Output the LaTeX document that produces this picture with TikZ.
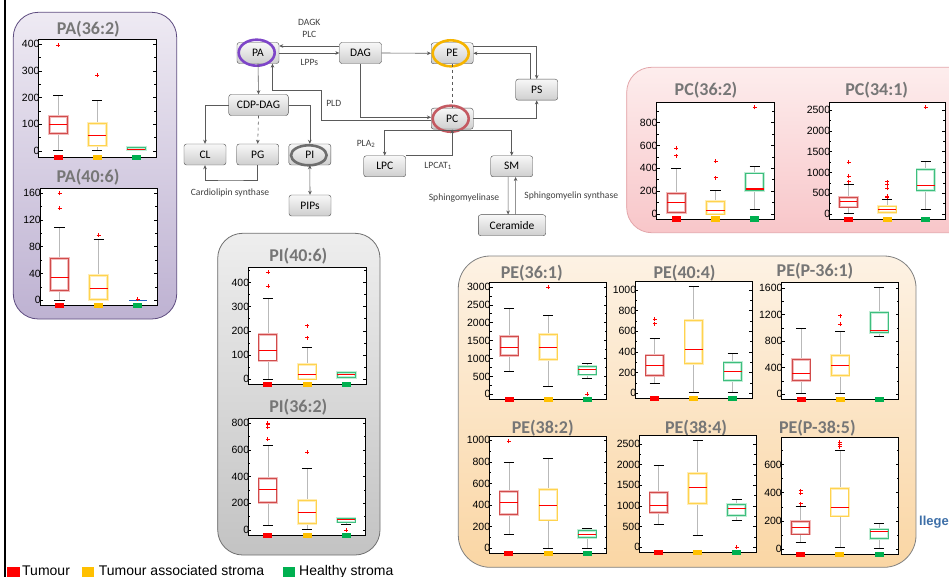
\documentclass[tikz,border=0pt]{standalone}
\usepackage{fontspec}
\setmainfont{Liberation Sans}
\newfontfamily\calfont{Carlito}
\usetikzlibrary{arrows.meta,calc}
\definecolor{sqR}{HTML}{FF0000}
\definecolor{sqY}{HTML}{FFC000}
\definecolor{sqG}{HTML}{00B050}
\definecolor{boxR}{HTML}{D14B4B}
\definecolor{boxRh}{HTML}{F2BCBC}
\definecolor{boxY}{HTML}{FFD34E}
\definecolor{boxYh}{HTML}{FFEDB8}
\definecolor{boxG}{HTML}{3DBE7E}
\definecolor{boxGh}{HTML}{C2EDD6}
\definecolor{ttl}{HTML}{767676}
\definecolor{lnk}{HTML}{5A5A5A}
\definecolor{collc}{HTML}{3D6FA8}
\definecolor{puT}{HTML}{EEEAF3}\definecolor{puB}{HTML}{BEB2D2}\definecolor{puD}{HTML}{5E4C80}
\definecolor{piT}{HTML}{FDEDED}\definecolor{piB}{HTML}{F8C6C9}\definecolor{piD}{HTML}{E3A6AA}
\definecolor{grT}{HTML}{EEEEEE}\definecolor{grB}{HTML}{C3C3C3}\definecolor{grD}{HTML}{707070}
\definecolor{peT}{HTML}{FDF2E4}\definecolor{peB}{HTML}{FAD6A4}\definecolor{peD}{HTML}{808080}
\definecolor{blueL}{HTML}{2060C0}
\definecolor{ringPA}{HTML}{7E45C8}
\definecolor{ringPE}{HTML}{F6B400}
\definecolor{ringPC}{HTML}{C45A62}
\definecolor{ringPI}{HTML}{6E6E6E}
\tikzset{
  pframe/.style={draw=black,fill=white,line width=0.9pt},
  tick/.style={line width=0.6pt},
  ticklab/.style={anchor=east,inner sep=0pt,xshift=1pt,font=\fontsize{10.5}{12}\selectfont},
  whisk/.style={draw=gray!55,line width=0.7pt},
  capb/.style={draw=black,line width=1pt},
  rb/.style={draw=boxR,line width=0.9pt}, rbh/.style={draw=boxRh,line width=2.6pt},
  yb/.style={draw=boxY,line width=0.9pt}, ybh/.style={draw=boxYh,line width=2.6pt},
  gb/.style={draw=boxG,line width=0.9pt}, gbh/.style={draw=boxGh,line width=2.6pt},
  medl/.style={draw=red,line width=1.1pt},
  outs/.style={draw=red,line width=0.8pt},
  ptitle/.style={font=\calfont\bfseries\fontsize{18}{20}\selectfont,text=ttl,inner sep=0pt},
  pbox/.style={draw=gray!60!black,rounded corners=2.5pt,top color=gray!6,bottom color=gray!38,
    minimum width=42pt,minimum height=21pt,inner sep=1pt,font=\calfont\fontsize{11.5}{13}\selectfont},
  plab/.style={font=\calfont\fontsize{9.6}{11}\selectfont,text=black!75,inner sep=0pt},
  arr/.style={draw=lnk,line width=0.6pt,-{Stealth[length=4pt,width=3.6pt]}},
  arrb/.style={draw=lnk,line width=0.6pt,{Stealth[length=4pt,width=3.6pt]}-{Stealth[length=4pt,width=3.6pt]}},
  legt/.style={font=\fontsize{14}{16}\selectfont,anchor=base west,inner sep=0pt},
  ring/.style={line width=2.6pt},
}
\newcommand\plotbegin[9]{%
  \draw[pframe] (#1,#3) rectangle (#2,#4);
  \pgfmathsetmacro\pu{(#2-#1)/3}%
  \pgfmathsetmacro\pxo{#1-(#2-#1)/6}%
  \pgfmathsetmacro\ptop{(#5-#3)/#6}%
  \pgfmathsetmacro\pmb{#9+#7}%
  \foreach \c [count=\i] in {sqR,sqY,sqG}
    \fill[\c] ({\pxo+\i*\pu-4.5},{#4-2.5}) rectangle ++(9,5.5);
  \begin{scope}[shift={(\pxo,#5)},x=\pu pt,y=#6pt]
  \foreach \v in {0,#7,...,#8}{
    \draw[tick] (0.5,\v) -- ++(3pt,0pt) (3.5,\v) -- ++(-3pt,0pt);
    \node[ticklab] at (0.5,\v) {\v};}
  \foreach \v in {#9,\pmb,...,\ptop}{
    \draw[tick] (0.5,\v) -- ++(2pt,0pt) (3.5,\v) -- ++(-2pt,0pt);}
}
\newcommand\plotend{\end{scope}}
\newcommand\bxp[7]{%
  \draw[whisk] (#1,#2) -- (#1,#3) (#1,#5) -- (#1,#6);
  \draw[capb] ({#1-0.13},#2) -- ({#1+0.13},#2) ({#1-0.13},#6) -- ({#1+0.13},#6);
  \draw[#7h] ({#1-0.23},#3) rectangle ({#1+0.23},#5);
  \draw[#7] ({#1-0.23},#3) rectangle ({#1+0.23},#5);
  \draw[medl] ({#1-0.23},#4) -- ({#1+0.23},#4);}
\newcommand\outl[2]{\draw[outs] (#1,#2) +(-2pt,0pt) -- +(2pt,0pt) +(0pt,-2pt) -- +(0pt,2pt);}
\begin{document}
\begin{tikzpicture}[x=1pt,y=-1pt]
\useasboundingbox (0,0) rectangle (949,577);
\clip (0,0) rectangle (949,577);
\fill[white] (0,0) rectangle (949,577);
% left rule
\draw[line width=2.5pt] (5,0) -- (5,577);
% panels
\shadedraw[top color=puT,bottom color=puB,draw=puD,line width=0.8pt,rounded corners=25pt] (13.3,12.3) rectangle (176.7,319);
\shadedraw[top color=piT,bottom color=piB,draw=piD,line width=0.8pt,rounded corners=25pt] (626.7,67.3) rectangle (975,232.7);
\shadedraw[top color=grT,bottom color=grB,draw=grD,line width=0.8pt,rounded corners=25pt] (217.7,233.3) rectangle (380,555);
\shadedraw[top color=peT,bottom color=peB,draw=peD,line width=0.8pt,rounded corners=32pt] (458.3,256) rectangle (916,567.3);
% company text
\node[anchor=west,inner sep=0pt,text=collc,font=\bfseries\fontsize{13}{15}\selectfont] (coll) at (919,522) {llege};
% titles
\node[ptitle] (tPA1) at (88.3,29) {PA(36:2)};
\node[ptitle] (tPA2) at (88,176.7) {PA(40:6)};
\node[ptitle] (tPC1) at (706,90) {PC(36:2)};
\node[ptitle] (tPC2) at (876.7,90) {PC(34:1)};
\node[ptitle] (tPI1) at (298.3,256) {PI(40:6)};
\node[ptitle] (tPI2) at (298.3,407.3) {PI(36:2)};
\node[ptitle] (tPE1) at (531.7,273.3) {PE(36:1)};
\node[ptitle] (tPE2) at (684.5,273) {PE(40:4)};
\node[ptitle] (tPE3) at (815,271) {PE(P-36:1)};
\node[ptitle] (tPE4) at (542.7,428.3) {PE(38:2)};
\node[ptitle] (tPE5) at (696,428) {PE(38:4)};
\node[ptitle] (tPE6) at (817.3,428.3) {PE(P-38:5)};
% PA(36:2)
\plotbegin{38.7}{156}{39.3}{157.3}{151}{0.267}{100}{400}{50}
 \bxp{1}{0}{66}{100}{129}{207}{rb} \outl{1}{397}
 \bxp{2}{0}{19}{59}{104}{190}{yb} \outl{2}{284}
 \bxp{3}{0}{4}{6}{12}{16}{gb}
\plotend
% PA(40:6)
\plotbegin{40}{157.3}{188.7}{305.3}{300.3}{0.669}{40}{160}{20}
 \bxp{1}{0}{15}{34.4}{62.8}{108.7}{rb} \outl{1}{160} \outl{1}{137.6}
 \bxp{2}{0}{1.5}{17}{37.4}{91}{yb} \outl{2}{97.7}
 \draw[draw=blueL,line width=1.1pt] ({3-0.23},0) -- ({3+0.23},0);
 \outl{3}{2}
\plotend
% PC(36:2)
\plotbegin{656.7}{774.3}{102.3}{219}{214}{0.1142}{200}{800}{100}
 \bxp{1}{0}{15}{102}{181}{400}{rb} \outl{1}{575} \outl{1}{511}
 \bxp{2}{0}{0}{32}{108}{204}{yb} \outl{2}{461} \outl{2}{318}
 \bxp{3}{41}{204}{219}{359}{420}{gb} \outl{3}{934}
\plotend
% PC(34:1)
\plotbegin{829.3}{945}{102.7}{219.3}{214}{0.0416}{500}{2500}{250}
 \bxp{1}{0}{168}{304}{393}{713}{rb} \outl{1}{1242} \outl{1}{905} \outl{1}{777}
 \bxp{2}{0}{32}{104}{192}{353}{yb} \outl{2}{777} \outl{2}{720} \outl{2}{617} \outl{2}{425} \outl{2}{400}
 \bxp{3}{112}{569}{689}{1066}{1274}{gb} \outl{3}{2564}
\plotend
% PI(40:6)
\plotbegin{248.3}{366}{267.7}{384.3}{379}{0.241}{100}{400}{50}
 \bxp{1}{0}{75}{119}{184}{335}{rb} \outl{1}{443} \outl{1}{384}
 \bxp{2}{0}{0}{19}{60}{131}{yb} \outl{2}{222} \outl{2}{171}
 \bxp{3}{3}{6}{19}{28}{32}{gb}
\plotend
% PI(36:2)
\plotbegin{248.3}{365.7}{418.7}{535.3}{530}{0.1333}{200}{800}{100}
 \bxp{1}{35}{205}{305}{385}{635}{rb} \outl{1}{800} \outl{1}{790} \outl{1}{770} \outl{1}{680}
 \bxp{2}{5}{50}{132}{222}{460}{yb} \outl{2}{585}
 \bxp{3}{40}{60}{80}{90}{95}{gb} \outl{3}{0}
\plotend
% PE(36:1)
\plotbegin{489.7}{606.7}{282.3}{399.3}{394.3}{0.0358}{500}{3000}{250}
 \bxp{1}{643}{1090}{1314}{1621}{2404}{rb}
 \bxp{2}{224}{979}{1314}{1677}{2199}{yb} \outl{2}{2992}
 \bxp{3}{447}{541}{699}{783}{867}{gb} \outl{3}{9}
\plotend
% PE(40:4)
\plotbegin{635.3}{752.3}{281.7}{398.3}{393.3}{0.1033}{200}{1000}{100}
 \bxp{1}{97}{174}{271}{371}{532}{rb} \outl{1}{716} \outl{1}{674}
 \bxp{2}{3}{290}{426}{706}{1032}{yb}
 \bxp{3}{3}{122}{213}{300}{383}{gb}
\plotend
% PE(P-36:1)
\plotbegin{781.7}{898.7}{282.3}{399}{394.3}{0.0663}{400}{1600}{200}
 \bxp{1}{5}{211}{307}{528}{996}{rb}
 \bxp{2}{5}{287}{438}{589}{951}{yb} \outl{2}{1187} \outl{2}{1060}
 \bxp{3}{875}{936}{961}{1238}{1615}{gb}
\plotend
% PE(38:2)
\plotbegin{489.3}{606.7}{436.3}{553.3}{548}{0.1077}{200}{1000}{100}
 \bxp{1}{127}{313}{424}{526}{796}{rb} \outl{1}{991}
 \bxp{2}{0}{260}{393}{545}{830}{yb}
 \bxp{3}{0}{99}{127}{164}{183}{gb}
\plotend
% PE(38:4)
\plotbegin{639.3}{756}{435.3}{552.3}{547.3}{0.0413}{500}{2500}{250}
 \bxp{1}{556}{839}{1016}{1323}{1984}{rb}
 \bxp{2}{290}{1065}{1452}{1790}{2589}{yb}
 \bxp{3}{661}{775}{944}{1041}{1162}{gb} \outl{3}{7}
\plotend
% PE(P-38:5)
\plotbegin{781}{898.7}{437.3}{554.3}{549}{0.1406}{200}{600}{100}
 \bxp{1}{47}{107}{154}{194}{304}{rb} \outl{1}{415} \outl{1}{398} \outl{1}{322}
 \bxp{2}{12}{235}{296}{429}{702}{yb} \outl{2}{761} \outl{2}{745} \outl{2}{728}
 \bxp{3}{5}{76}{126}{142}{180}{gb}
\plotend
% pathway nodes
\node[pbox] (PA) at (258,53) {PA};
\node[pbox] (DAG) at (360.5,53) {DAG};
\node[pbox] (PE) at (452.2,53.3) {PE};
\node[pbox] (PC) at (452.2,118.7) {PC};
\node[pbox] (PS) at (536.7,89.7) {PS};
\node[pbox,minimum width=59.6pt] (CDP) at (258.5,105) {CDP-DAG};
\node[pbox] (CL) at (205,154.5) {CL};
\node[pbox] (PG) at (257.7,154.5) {PG};
\node[pbox] (PI) at (309.8,154.5) {PI};
\node[pbox] (PIPs) at (310,205.5) {PIPs};
\node[pbox] (LPC) at (384.7,166.3) {LPC};
\node[pbox] (SM) at (511.7,166.3) {SM};
\node[pbox,minimum width=67.4pt] (Cer) at (512,225.2) {Ceramide};
% highlight rings
\draw[ring,draw=ringPA] (256.7,52.7) ellipse [x radius=18,y radius=13];
\draw[ring,draw=ringPE] (450.7,53.3) ellipse [x radius=18,y radius=13];
\draw[ring,draw=ringPC] (450.7,118.7) ellipse [x radius=18,y radius=13];
\draw[ring,draw=ringPI] (308.8,155.3) ellipse [x radius=17.8,y radius=10];
% connectors
\coordinate (pldc) at (321.7,90.7);
\coordinate (clb) at (230,180);
\draw[arr] ([yshift=7pt]DAG.west) -- ([yshift=7pt]PA.east);
\draw[arr] (PA.east) -- (DAG.west);
\draw[arr] (DAG.east) -- (PE.west);
\draw[arr] (DAG.south) |- ([yshift=1.4pt]PC.west);
\draw[arr] ([yshift=-1.6pt]PC.west) -| (pldc) -| ([xshift=14.5pt]PA.south);
\draw[arr] (PA.south) -- (CDP.north);
\draw[arr] (CDP.west) -| (CL.north);
\draw[arr,dashed] (CDP.south) -- (PG.north);
\draw[arr] (CDP.east) -| (PI.north);
\draw[arr] (PG.south) |- (clb) -| (CL.south);
\draw[arrb] (PI.south) -- (PIPs.north);
\draw[arr] ([yshift=-11.3pt]PC.west) -| (LPC.north);
\draw[arr] ([yshift=-11.3pt]PC.west) -| (SM.north);
\draw[arr] ([yshift=10.5pt]LPC.east) -| (PC.south);
\draw[draw=lnk,line width=0.6pt,dashed] (PE.south) -- (PC.north);
\draw[arr] ([yshift=7pt]PE.east) -| (PS.north);
\draw[arr] ([xshift=-6.7pt]PS.north) |- (PE.east);
\draw[arr] (PC.east) -| (PS.south);
\draw[arr] ([xshift=-3.6pt]SM.south) -- ([xshift=-3.9pt]Cer.north);
\draw[arr] ([xshift=3.6pt]Cer.north) -- ([xshift=3.9pt]SM.south);
% pathway labels
\node[plab] (lDAGK) at (309.3,22.7) {DAGK};
\node[plab] (lPLC) at (309.3,34.3) {PLC};
\node[plab] (lLPP) at (309.3,62.3) {LPPs};
\node[plab] (lPLD) at (333.7,103.3) {PLD};
\node[plab] (lPLA) at (366,144) {PLA\textsubscript{2}};
\node[plab] (lLPCAT) at (438,165.7) {LPCAT\textsubscript{1}};
\node[plab] (lCS) at (230,193.3) {Cardiolipin synthase};
\node[plab] (lSMase) at (464,197.7) {Sphingomyelinase};
\node[plab] (lSMS) at (571.3,196) {Sphingomyelin synthase};
% legend
\fill[sqR] (7.3,566.5) rectangle (20,577);
\node[legt] (lg1) at (22,575) {Tumour};
\fill[sqY] (81.7,566.5) rectangle (94.3,577);
\node[legt] (lg2) at (98.7,575) {Tumour associated stroma};
\fill[sqG] (283,566.5) rectangle (295.3,577);
\node[legt] (lg3) at (299,575) {Healthy stroma};
\end{tikzpicture}
\end{document}
